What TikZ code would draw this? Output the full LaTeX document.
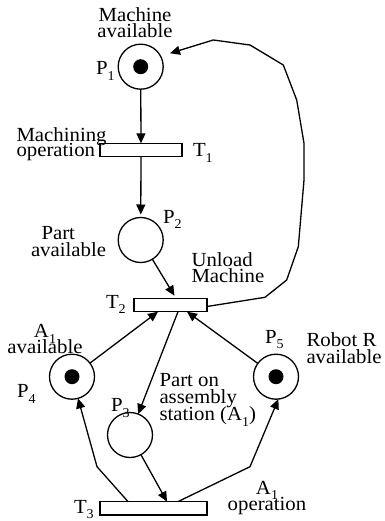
\documentclass[tikz,border=0pt]{standalone}
\usepackage{fontspec}
\setmainfont{Liberation Serif}[FakeStretch=1.04]
\usetikzlibrary{arrows.meta}
% lowered, smaller index for P_i, T_i, A_i
\newcommand\sbs[1]{\raisebox{-5.5pt}{\fontsize{13.5}{13.5}\selectfont #1}}
% multi-line labels (lines separated by \cr); baseline is that of the first line
\newcommand\lstack[1]{\vtop{\lineskiplimit=-50pt\halign{##\hfil\cr#1\crcr}}}
\newcommand\cstack[1]{\vtop{\lineskiplimit=-50pt\halign{\hfil##\hfil\cr#1\crcr}}}
\begin{document}
\begin{tikzpicture}[x=1pt,y=-1pt,
  every node/.style={inner sep=0pt, outer sep=0pt},
  place/.style={circle, draw, line width=1.3pt, minimum size=45pt},
  token/.style={circle, fill, minimum size=15pt},
  trans/.style={rectangle, draw, line width=1.3pt, minimum height=13.4pt},
  lbl/.style={font=\fontsize{20}{16.3}\selectfont},
  arc/.style={line width=1.3pt, -{Triangle[length=10pt,width=9pt]}},
]
\useasboundingbox (0,0) rectangle (384,521);

% places
\node[place] (P1) at (140.7,66.7) {};
\node[token] (k1) at (P1) {};
\node[place] (P2) at (140.7,240) {};
\node[place] (P3) at (130,435) {};
\node[place] (P4) at (72,376.7) {};
\node[token] (k4) at (P4) {};
\node[place] (P5) at (276,376.7) {};
\node[token] (k5) at (P5) {};

% transitions
\node[trans, minimum width=82pt]  (T1) at (141,150) {};
\node[trans, minimum width=73pt]  (T2) at (170.5,305) {};
\node[trans, minimum width=107pt] (T3) at (153.5,508.3) {};

% labels
\node[lbl, anchor=base] (lP1t) at (135,21.5) {\cstack{Machine\cr available}};
\node[lbl, anchor=base west] (lP1) at (96,75) {P\sbs{1}};
\node[lbl, anchor=base west] (lT1t) at (16.5,142) {\lstack{Machining\cr\noalign{\kern-1.3pt}operation}};
\node[lbl, anchor=base west] (lT1) at (193,157) {T\sbs{1}};
\node[lbl, anchor=base west] (lP2) at (163,223) {P\sbs{2}};
\node[lbl, anchor=base west] (lP2t) at (31,239) {\lstack{\hskip10.5pt Part\cr\noalign{\kern0.7pt}available}};
\node[lbl, anchor=base west] (lT2t) at (191.5,266) {\lstack{Unload\cr Machine}};
\node[lbl, anchor=base west] (lT2) at (106,308) {T\sbs{2}};
\node[lbl, anchor=base] (lP4t) at (45,337.5) {\cstack{A\sbs{1}\cr available}};
\node[lbl, anchor=base west] (lP4) at (17,397.5) {P\sbs{4}};
\node[lbl, anchor=base west] (lP5) at (265,343) {P\sbs{5}};
\node[lbl, anchor=base west] (lP5t) at (306.5,346.7) {\lstack{Robot R\cr available}};
\node[lbl, anchor=base west] (lP3t) at (159.5,386.5) {\lstack{Part on\cr\noalign{\kern0.7pt}assembly\cr\noalign{\kern0.7pt}station (A\sbs{1})}};
\node[lbl, anchor=base west] (lP3) at (111,411.7) {P\sbs{3}};
\node[lbl, anchor=base west] (lT3) at (74,513) {T\sbs{3}};
\node[lbl, anchor=base] (lT3t) at (267,494) {\cstack{A\sbs{1}\cr operation}};

% bend points and free end of the return arc
\coordinate (b4) at (97,466.7);
\coordinate (b5) at (250,466.7);
\coordinate (fb) at (170,53.3);

% arcs
\draw[arc] (P1) -- (T1);
\draw[arc, shorten >=3pt] (T1) -- (P2);
\draw[arc, shorten >=3pt] (P2) -- ([xshift=5.5pt]T2.north);
\draw[arc] (P4) -- ([xshift=-12.5pt]T2.south);
\draw[arc] (P5) -- ([xshift=16.5pt]T2.south);
\draw[arc] ([xshift=7.5pt]T2.south) -- (P3);
\draw[arc] (P3) -- ([xshift=13.5pt]T3.north);
\draw[arc] ([xshift=-25.5pt]T3.north) -- (b4) -- (P4);
\draw[arc] ([xshift=24.5pt]T3.north) -- (b5) -- (P5.-84);
\draw[arc] ([yshift=-1.5pt]T2.east) -- (265,297.3) -- (286.7,280) -- (298.3,246.7)
  -- (304,180) -- (304,143.3) -- (296.7,100) -- (283.3,65) -- (250,45)
  -- (213.3,40) -- (fb);
\end{tikzpicture}
\end{document}
